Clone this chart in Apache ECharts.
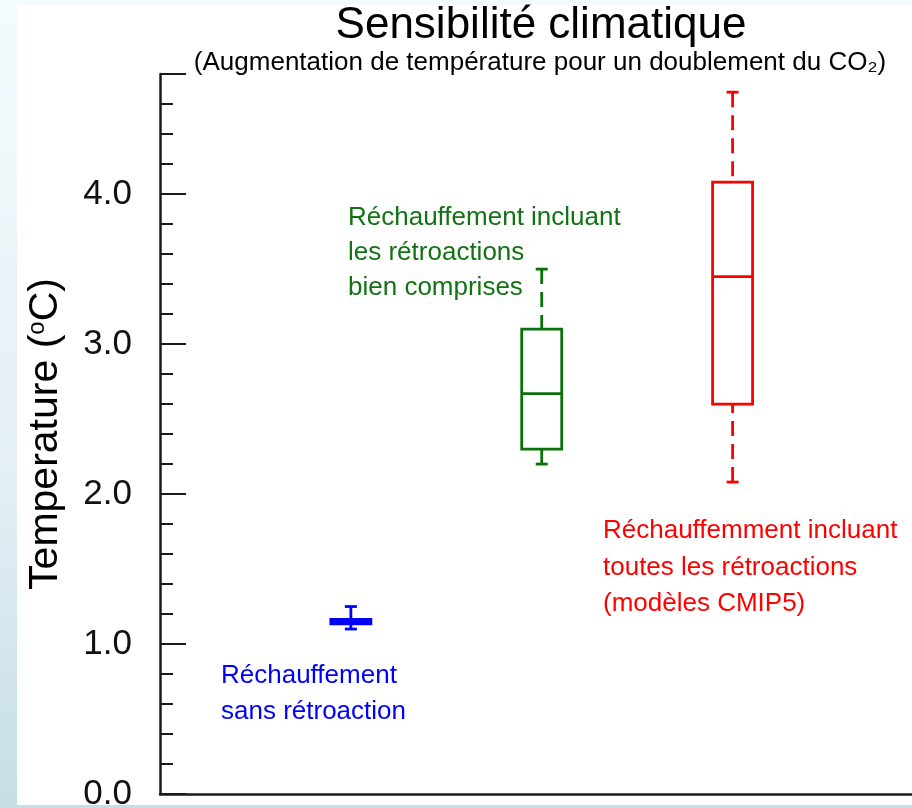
<!DOCTYPE html>
<html>
<head>
<meta charset="utf-8">
<script src="https://cdn.jsdelivr.net/npm/echarts@6/dist/echarts.min.js"></script>
<style>
  html, body { margin: 0; padding: 0; width: 912px; height: 808px; overflow: hidden;
    background: linear-gradient(to bottom, #f4fbfd 0%, #e2eff4 60%, #c6dde6 100%); }
  #panel { position: absolute; left: 17px; top: 5px; width: 895px; height: 800px; background: #ffffff; }
  #chart { position: absolute; left: 0; top: 0; width: 912px; height: 808px; }
</style>
</head>
<body>
<div id="panel"></div>
<div id="chart"></div>
<script>
// ---- data ----
const categories = ['Réchauffement sans rétroaction', 'Rétroactions bien comprises', 'Toutes les rétroactions (CMIP5)'];
const whiskerLow  = [1.10, 2.20, 2.08];
const quart1      = [1.135, 2.30, 2.60];
const medians     = [1.15, 2.67, 3.45];
const quart3      = [1.165, 3.10, 4.08];
const whiskerHigh = [1.25, 3.50, 4.68];
const yTickLabels = ['0.0', '1.0', '2.0', '3.0', '4.0'];

const colors = ['#0000ff', '#0a700a', '#ff0000'];
const dashed = [false, true, true];

const seriesData = categories.map((c, i) => [i + 1, whiskerLow[i], quart1[i], medians[i], quart3[i], whiskerHigh[i]]);

const chart = echarts.init(document.getElementById('chart'), null, { renderer: 'canvas' });

function renderItem(params, api) {
  const i = params.dataIndex;
  const x = api.value(0);
  const lo = api.value(1), q1 = api.value(2), md = api.value(3), q3 = api.value(4), hi = api.value(5);
  const pLo = api.coord([x, lo]), pQ1 = api.coord([x, q1]), pMd = api.coord([x, md]);
  const pQ3 = api.coord([x, q3]), pHi = api.coord([x, hi]);
  const cx = pMd[0];
  const boxHalf = 20, capHalf = 6;
  const col = colors[i];
  const lw = 2.8;
  const dash = dashed[i] ? [15, 8] : null;
  const children = [];
  children.push({ type: 'line', shape: { x1: cx, y1: pHi[1], x2: cx, y2: pQ3[1] },
    style: { stroke: col, lineWidth: lw, lineDash: dash } });
  children.push({ type: 'line', shape: { x1: cx, y1: pLo[1], x2: cx, y2: pQ1[1] },
    style: { stroke: col, lineWidth: lw, lineDash: dash } });
  children.push({ type: 'line', shape: { x1: cx - capHalf, y1: pHi[1], x2: cx + capHalf, y2: pHi[1] },
    style: { stroke: col, lineWidth: lw } });
  children.push({ type: 'line', shape: { x1: cx - capHalf, y1: pLo[1], x2: cx + capHalf, y2: pLo[1] },
    style: { stroke: col, lineWidth: lw } });
  children.push({ type: 'rect', shape: { x: cx - boxHalf, y: pQ3[1], width: boxHalf * 2, height: pQ1[1] - pQ3[1] },
    style: { stroke: col, lineWidth: lw, fill: i === 0 ? col : '#ffffff' } });
  children.push({ type: 'line', shape: { x1: cx - boxHalf, y1: pMd[1], x2: cx + boxHalf, y2: pMd[1] },
    style: { stroke: col, lineWidth: lw } });
  return { type: 'group', children };
}

const font = '"Liberation Sans", Arial, Helvetica, sans-serif';

const option = {
  animation: false,
  backgroundColor: 'transparent',
  title: [
    { text: 'Sensibilité climatique', left: 541, top: 4, textAlign: 'center', padding: 0,
      textStyle: { fontFamily: font, fontSize: 44, fontWeight: 'normal', color: '#000' } },
    { text: '(Augmentation de température pour un doublement du CO₂)', left: 540, top: 50, textAlign: 'center', padding: 0,
      textStyle: { fontFamily: font, fontSize: 26, fontWeight: 'normal', color: '#000' } }
  ],
  grid: { left: 160, right: 0, top: 74, bottom: 14, containLabel: false, outerBoundsMode: 'none' },
  xAxis: {
    type: 'value', min: 0, max: 3.94,
    axisLine: { show: true, onZero: false, lineStyle: { color: '#1a1a1a', width: 2.5 } },
    axisTick: { show: false }, axisLabel: { show: false }, splitLine: { show: false }
  },
  yAxis: {
    type: 'value', min: 0, max: 4.801, interval: 1,
    name: 'Temperature ({s|o}C)', nameLocation: 'middle', nameGap: 94,
    nameTextStyle: { fontFamily: font, fontSize: 41, color: '#000',
      rich: { s: { fontSize: 24, verticalAlign: 'top', padding: [0, 0, 16, 0], fontFamily: font, color: '#000' } } },
    axisLine: { show: true, lineStyle: { color: '#1a1a1a', width: 2.5 } },
    axisTick: { show: true, inside: true, length: 26, lineStyle: { color: '#1a1a1a', width: 2 } },
    minorTick: { show: true, splitNumber: 5, length: 13, lineStyle: { color: '#1a1a1a', width: 2 } },
    axisLabel: { fontFamily: font, fontSize: 35, color: '#111', margin: 28,
      formatter: v => { const k = Math.round(v); return (Math.abs(v - k) < 1e-6 && yTickLabels[k]) ? yTickLabels[k] : ''; } },
    splitLine: { show: false }
  },
  series: [{
    type: 'custom', renderItem,
    encode: { x: 0, y: [1, 2, 3, 4, 5] },
    data: seriesData, clip: false
  }],
  graphic: [
    { type: 'text', left: 221, top: 658, style: { text: 'Réchauffement\nsans rétroaction', fill: '#0000ff',
      font: '26px ' + font, lineHeight: 36 } },
    { type: 'text', left: 348, top: 200.5, style: { text: 'Réchauffement incluant\nles rétroactions\nbien comprises', fill: '#137213',
      font: '26px ' + font, lineHeight: 35 } },
    { type: 'text', left: 603, top: 513, style: { text: 'Réchauffemment incluant\ntoutes les rétroactions\n(modèles CMIP5)', fill: '#ff0000',
      font: '26px ' + font, lineHeight: 36.5 } }
  ]
};
chart.setOption(option);
</script>
</body>
</html>
